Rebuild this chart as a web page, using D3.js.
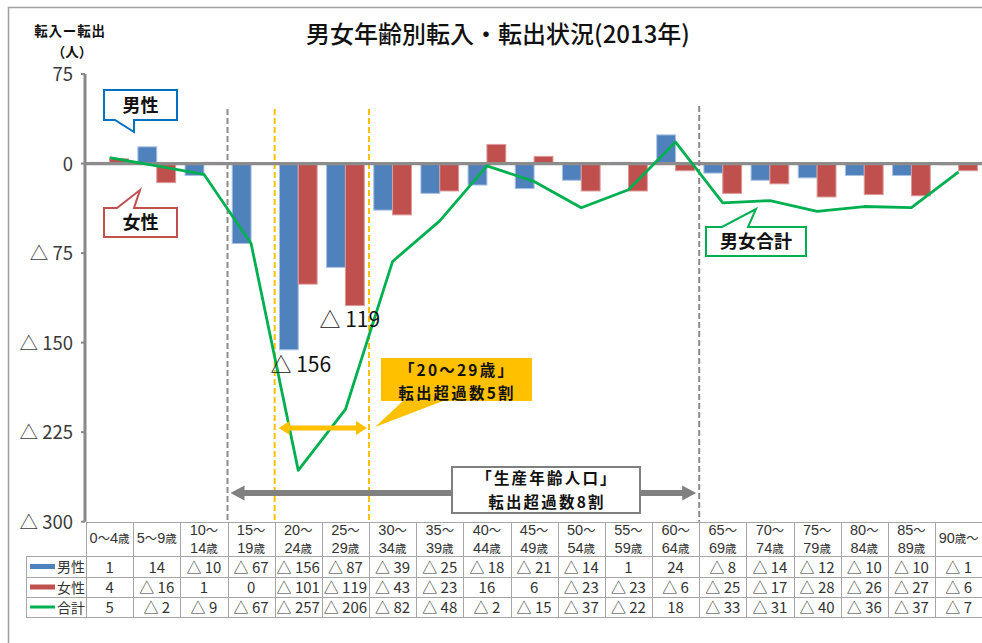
<!DOCTYPE html>
<html><head><meta charset="utf-8">
<script src="https://cdn.jsdelivr.net/npm/d3@7"></script>
<style>
body{margin:0;background:#fff}
svg{display:block}
text{font-family:"Noto Sans CJK JP","Noto Sans",sans-serif}
</style>
</head><body>
<svg id="c" width="982" height="643"></svg>
<script>
const categories = ["0〜4歳","5〜9歳","10〜\n14歳","15〜\n19歳","20〜\n24歳","25〜\n29歳","30〜\n34歳","35〜\n39歳","40〜\n44歳","45〜\n49歳","50〜\n54歳","55〜\n59歳","60〜\n64歳","65〜\n69歳","70〜\n74歳","75〜\n79歳","80〜\n84歳","85〜\n89歳","90歳〜"];
const male   = [1,14,-10,-67,-156,-87,-39,-25,-18,-21,-14,1,24,-8,-14,-12,-10,-10,-1];
const female = [4,-16,1,0,-101,-119,-43,-23,16,6,-23,-23,-6,-25,-17,-28,-26,-27,-6];
const total  = [5,-2,-9,-67,-257,-206,-82,-48,-2,-15,-37,-22,18,-33,-31,-40,-36,-37,-7];
const yTicks = [75,0,-75,-150,-225,-300];
const seriesNames = ["男性","女性","合計"];
const title = "男女年齢別転入・転出状況(2013年)";

const colors = {male:"#4F81BD", female:"#C0504D", total:"#00B050"};
const fmt = v => v < 0 ? "△ " + (-v) : String(v);
const CJK = '"Noto Sans CJK JP",sans-serif';
const LAT = '"Liberation Sans",Arial,sans-serif';

const svg = d3.select("#c");

// outer border
svg.append("rect").attr("x",8.5).attr("y",7.5).attr("width",1100).attr("height",800)
  .attr("fill","none").attr("stroke","#a0a0a0").attr("stroke-width",1.5);

const x = d3.scaleBand().domain(d3.range(categories.length)).range([86, 982.2]).padding(0);
const y = d3.scaleLinear().domain([-300, 75]).range([521.7, 74]);
const bw = x.bandwidth();

// title
svg.append("text").attr("x",498).attr("y",43).attr("text-anchor","middle")
  .attr("font-size",24).attr("font-weight",500).attr("fill","#111").text(title);
// y axis title
svg.append("text").attr("x",70).attr("y",36).attr("text-anchor","middle")
  .attr("font-size",13.5).attr("font-weight",700).attr("fill","#111").attr("letter-spacing",0.8).text("転入ー転出");
svg.append("text").attr("x",72).attr("y",57).attr("text-anchor","middle")
  .attr("font-size",13.5).attr("font-weight",700).attr("fill","#111").text("（人）");

// dashed vertical lines
const vlines = [
  {i:3, color:"#8c8c8c", top:109},
  {i:13, color:"#8c8c8c", top:106},
  {i:4, color:"#FFC000", top:109},
  {i:6, color:"#FFC000", top:109}
];
vlines.forEach(v => {
  svg.append("line").attr("x1",x(v.i)).attr("x2",x(v.i)).attr("y1",v.top).attr("y2",y(-300))
    .attr("stroke",v.color).attr("stroke-width",2).attr("stroke-dasharray","6,3");
});

// bars
const barG = svg.append("g");
const mkBars = (vals, off, col, edge) => {
  barG.selectAll(null).data(vals.map((v,i)=>({v,i})).filter(d=>d.v!==0)).join("rect")
    .attr("x", d => x(d.i) + bw*off)
    .attr("width", bw*0.4)
    .attr("y", d => y(Math.max(0,d.v)))
    .attr("height", d => Math.abs(y(d.v)-y(0)))
    .attr("fill", col).attr("stroke", edge).attr("stroke-width",1);
};
mkBars(male, 0.1, colors.male, "#a9c1e3");
mkBars(female, 0.5, colors.female, "#dc9a98");

// y axis
svg.append("line").attr("x1",85).attr("x2",85).attr("y1",y(75)).attr("y2",y(-300))
  .attr("stroke","#888").attr("stroke-width",3);
yTicks.forEach(t => {
  svg.append("line").attr("x1",81).attr("x2",85).attr("y1",y(t)).attr("y2",y(t))
    .attr("stroke","#888").attr("stroke-width",2);
  svg.append("text").attr("x",73).attr("y",y(t)+7).attr("text-anchor","end")
    .attr("font-size",18.5).attr("fill","#3a3a3a").text(fmt(t));
});
// zero line
svg.append("line").attr("x1",85).attr("x2",982).attr("y1",y(0)).attr("y2",y(0))
  .attr("stroke","#8c8c8c").attr("stroke-width",3.2);

// total line
const line = d3.line().x((d,i)=>x(i)+bw/2).y(d=>y(d));
svg.append("path").datum(total).attr("d",line).attr("fill","none")
  .attr("stroke",colors.total).attr("stroke-width",2.8).attr("stroke-linejoin","round");

// data labels
svg.append("text").attr("x",x(4)+bw*0.3+12).attr("y",y(male[4])+22).attr("text-anchor","middle")
  .attr("font-size",21).attr("fill","#111").text(fmt(male[4]));
svg.append("text").attr("x",x(5)+bw*0.7-5).attr("y",y(female[5])+21).attr("text-anchor","middle")
  .attr("font-size",21).attr("fill","#111").text(fmt(female[5]));

// callouts
const callout = (d, col, label, tx, ty) => {
  svg.append("path").attr("d",d).attr("fill","#fff").attr("stroke",col).attr("stroke-width",2);
  svg.append("text").attr("x",tx).attr("y",ty).attr("text-anchor","middle")
    .attr("font-size",18).attr("font-weight",700).attr("fill","#111").text(label);
};
callout("M104,90H177V120H134V132L115,120H104Z", "#0070C0", "男性", 140.5, 112);
callout("M104,208H117L140,190L134,208H177V237H104Z", "#C0504D", "女性", 140.5, 229);
callout("M706,227H722L756,209L748,227H806V256H706Z", colors.total, "男女合計", 756, 248);

// yellow arrow
const yA = 428, yl = x(4)+4, yr = x(6)-2;
svg.append("line").attr("x1",yl+9).attr("x2",yr-9).attr("y1",yA).attr("y2",yA)
  .attr("stroke","#FFC000").attr("stroke-width",5);
svg.append("path").attr("d",`M${yl},${yA}L${yl+11},${yA-7}L${yl+11},${yA+7}Z M${yr},${yA}L${yr-11},${yA-7}L${yr-11},${yA+7}Z`)
  .attr("fill","#FFC000");
// yellow callout
svg.append("path").attr("d","M381,358H532V401H443L375,427L403,401H381Z").attr("fill","#FFC000");
const boxText = (txt, cx, by) => svg.append("text").attr("x",cx).attr("y",by).attr("text-anchor","middle")
  .attr("font-size",15.5).attr("font-weight",700).attr("letter-spacing",2.2).attr("fill","#111").text(txt);
boxText("「20〜29歳」", 457, 375.5);
boxText("転出超過数5割", 457, 399);

// gray arrow
const gA = 493, gl = x(3)+3, gr = x(13)-3;
svg.append("line").attr("x1",gl+12).attr("x2",gr-12).attr("y1",gA).attr("y2",gA)
  .attr("stroke","#808080").attr("stroke-width",6);
svg.append("path").attr("d",`M${gl},${gA}L${gl+14},${gA-7.5}L${gl+14},${gA+7.5}Z M${gr},${gA}L${gr-14},${gA-7.5}L${gr-14},${gA+7.5}Z`)
  .attr("fill","#808080");
svg.append("rect").attr("x",452).attr("y",467).attr("width",188).attr("height",46)
  .attr("fill","#fff").attr("stroke","#7f7f7f").attr("stroke-width",2);
boxText("「生産年齢人口」", 547, 484);
boxText("転出超過数8割", 547, 507.5);

// data table
const tT = 522, tH = 556, rows = [556, 577, 597, 617], tL = 26, tX = 86, tR = 982;
const tg = svg.append("g").attr("stroke","#a6a6a6").attr("stroke-width",1);
tg.append("line").attr("x1",tX).attr("x2",tR).attr("y1",tT+0.5).attr("y2",tT+0.5);
rows.forEach(r => tg.append("line").attr("x1",tL).attr("x2",tR).attr("y1",r+0.5).attr("y2",r+0.5));
tg.append("line").attr("x1",tL+0.5).attr("x2",tL+0.5).attr("y1",tH).attr("y2",617);
d3.range(categories.length+1).forEach(i => {
  const xx = i < categories.length ? x(i) : 982;
  tg.append("line").attr("x1",Math.round(xx)+0.5).attr("x2",Math.round(xx)+0.5).attr("y1",tT).attr("y2",617);
});

// header
categories.forEach((c,i) => {
  const lines = c.split("\n");
  const cx = x(i)+bw/2;
  const bys = lines.length === 1 ? [543] : [534.5, 552.5];
  lines.forEach((ln, k) => {
    const t = svg.append("text").attr("x",cx).attr("y",bys[k]).attr("text-anchor","middle").attr("fill","#333");
    ln.split(/(歳|〜)/).filter(s=>s.length).forEach(s => {
      const ts = t.append("tspan").text(s);
      if (s === "歳") ts.attr("font-family",CJK).attr("font-size",11.5);
      else if (s === "〜") ts.attr("font-family",CJK).attr("font-size",12.3);
      else ts.attr("font-family",LAT).attr("font-size",14.5);
    });
  });
});

// rows
const rowData = [male, female, total];
const rowCols = [colors.male, colors.female, colors.total];
rowData.forEach((vals, r) => {
  const mid = (rows[r] + rows[r+1]) / 2;
  svg.append("line").attr("x1",30).attr("x2",55).attr("y1",mid).attr("y2",mid)
    .attr("stroke",rowCols[r]).attr("stroke-width", r===2 ? 3 : 5);
  svg.append("text").attr("x",57).attr("y",mid+5.5).attr("font-size",14).attr("fill","#333").text(seriesNames[r]);
  vals.forEach((v,i) => {
    svg.append("text").attr("x",x(i)+bw/2).attr("y",mid+6).attr("text-anchor","middle")
      .attr("font-size",15).attr("fill","#333").text(fmt(v));
  });
});
</script>
</body></html>
